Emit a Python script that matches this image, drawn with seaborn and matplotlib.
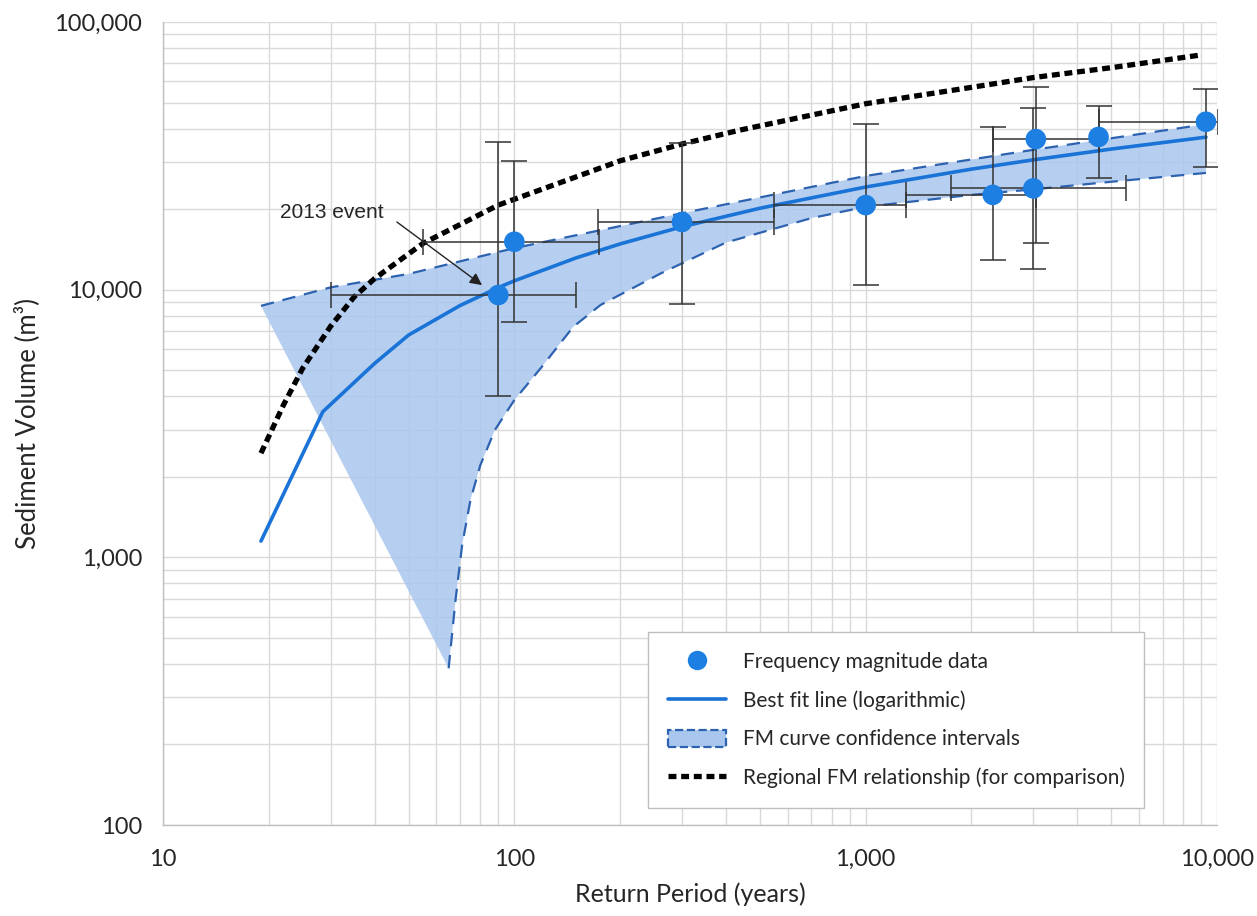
import numpy as np
import pandas as pd
import seaborn as sns
import matplotlib
matplotlib.use("Agg")
import matplotlib.pyplot as plt
import matplotlib.ticker as mticker
from matplotlib.lines import Line2D
from matplotlib.patches import Patch

# ---------------- data ----------------
point_rp = [90, 100, 300, 1000, 2300, 3000, 3050, 4600, 9300]
point_vol = [9550, 15100, 17900, 20700, 22600, 23900, 36500, 37200, 42400]
vol_low = [4010, 7590, 8850, 10400, 12900, 11900, 15000, 26100, 28800]
vol_high = [35700, 30300, 35400, 41600, 40600, 47900, 57300, 48500, 56100]
rp_low = [30, 55, 173, 548, 1300, 1750, 2300, np.nan, 4600]
rp_high = [150, 174, 548, 1300, 3050, 5500, 4600, np.nan, 10040]

fit_rp = [19, 28.5, 40, 50, 70, 90, 100, 150, 200, 300, 500, 1000, 2000, 3000, 5000, 9300]
fit_vol = [1150, 3500, 5300, 6770, 8720, 10180, 10790, 13150, 14820, 17180, 20150,
           24180, 28200, 30550, 33520, 37130]

ci_up_rp = [19, 30, 50, 100, 300, 1000, 3000, 9300]
ci_up_vol = [8700, 10200, 11450, 14300, 19300, 26600, 33300, 41500]
ci_lo_rp = [65, 68, 71, 75, 80, 88, 100, 119, 147, 176, 261, 400, 700, 1000, 2000,
            3000, 5000, 9300]
ci_lo_vol = [385, 693, 1110, 1640, 2210, 2990, 3870, 5100, 7260, 8770, 11500, 15000,
             18500, 20400, 22600, 23700, 25300, 27300]

reg_rp = [19, 22, 25, 30, 35, 40, 55, 90, 150, 200, 300, 440, 1000, 2000, 3000, 5000, 9000]
reg_vol = [2450, 3700, 5100, 7300, 9400, 11000, 14900, 20700, 26400, 30300, 35000,
           39500, 49500, 57000, 62000, 67500, 75300]

event_label = "2013 event"
event_tail = (46.3, 17900)
event_head = (80.9, 10400)

x_ticks = [10, 100, 1000, 10000]
y_ticks = [100, 1000, 10000, 100000]

# ---------------- style ----------------
sns.set_theme(style="whitegrid")
plt.rcParams['font.family'] = ['Lato', 'DejaVu Sans']

PT_BLUE = '#1E7FE3'
FIT_BLUE = '#1A73D6'
CI_EDGE = '#2D62B0'
CI_FILL = '#A9C7EE'
GRID = '#D9D9D9'
TXT = '#262626'

fig = plt.figure(figsize=(12.57, 9.16), dpi=100)
ax = fig.add_axes([0.1297, 0.0993, 0.9682 - 0.1297, 0.976 - 0.0993])
ax.set_facecolor('white')

ax.set_xscale('log')
ax.set_yscale('log')
ax.set_xlim(10, 10000)
ax.set_ylim(100, 100000)

# confidence interval polygon
poly_x = list(ci_up_rp) + list(ci_lo_rp[::-1])
poly_y = list(ci_up_vol) + list(ci_lo_vol[::-1])
ax.fill(poly_x, poly_y, color=CI_FILL, alpha=0.85, lw=0, zorder=2)

df_up = pd.DataFrame({'rp': ci_up_rp, 'vol': ci_up_vol})
df_lo = pd.DataFrame({'rp': ci_lo_rp, 'vol': ci_lo_vol})
sns.lineplot(data=df_up, x='rp', y='vol', ax=ax, color=CI_EDGE, lw=1.6,
             linestyle=(0, (6, 4)), sort=False, zorder=3, estimator=None)
sns.lineplot(data=df_lo, x='rp', y='vol', ax=ax, color=CI_EDGE, lw=1.6,
             linestyle=(0, (6, 4)), sort=False, zorder=3, estimator=None)

# regional relationship
df_reg = pd.DataFrame({'rp': reg_rp, 'vol': reg_vol})
sns.lineplot(data=df_reg, x='rp', y='vol', ax=ax, color='black', lw=3.8,
             linestyle=(0, (1.5, 0.9)), sort=False, zorder=4, estimator=None)

# best fit
df_fit = pd.DataFrame({'rp': fit_rp, 'vol': fit_vol})
sns.lineplot(data=df_fit, x='rp', y='vol', ax=ax, color=FIT_BLUE, lw=2.6,
             sort=False, zorder=5, estimator=None)

# error bars
pr = np.array(point_rp, float)
pv = np.array(point_vol, float)
yerr = np.vstack([pv - np.array(vol_low), np.array(vol_high) - pv])
ax.errorbar(pr, pv, yerr=yerr, fmt='none', ecolor='#333333', elinewidth=1.1,
            capsize=9.5, capthick=1.1, zorder=6)
rl = np.array(rp_low, float)
rh = np.array(rp_high, float)
m = ~np.isnan(rl)
xerr = np.vstack([pr[m] - rl[m], rh[m] - pr[m]])
ax.errorbar(pr[m], pv[m], xerr=xerr, fmt='none', ecolor='#333333', elinewidth=1.1,
            capsize=9.5, capthick=1.1, zorder=6)

# data points
df_pts = pd.DataFrame({'rp': point_rp, 'vol': point_vol})
sns.scatterplot(data=df_pts, x='rp', y='vol', ax=ax, color=PT_BLUE, s=220,
                edgecolor='none', zorder=7)

# annotation
ax.text(21.5, 19400, event_label, fontsize=15, family=['Liberation Sans', 'DejaVu Sans'],
        color=TXT, va='center', ha='left', zorder=8)
ax.annotate('', xy=event_head, xytext=event_tail,
            arrowprops=dict(arrowstyle='-|>', color='#222222', lw=1.0,
                            mutation_scale=18, shrinkA=0, shrinkB=0), zorder=8)

# grid / ticks
ax.grid(True, which='major', color=GRID, lw=1.0)
ax.grid(True, which='minor', color=GRID, lw=1.0)
ax.set_axisbelow(True)
ax.xaxis.set_major_locator(mticker.FixedLocator(x_ticks))
ax.yaxis.set_major_locator(mticker.FixedLocator(y_ticks))
ax.xaxis.set_minor_locator(mticker.LogLocator(base=10, subs=np.arange(2, 10)))
ax.yaxis.set_minor_locator(mticker.LogLocator(base=10, subs=np.arange(2, 10)))
ax.xaxis.set_minor_formatter(mticker.NullFormatter())
ax.yaxis.set_minor_formatter(mticker.NullFormatter())
fmt = mticker.FuncFormatter(lambda v, p: f"{int(round(v)):,}")
ax.xaxis.set_major_formatter(fmt)
ax.yaxis.set_major_formatter(fmt)
ax.tick_params(axis='both', which='major', labelsize=17, colors=TXT, length=8,
               width=1.0, color='#BFBFBF', pad=7)
ax.tick_params(axis='x', which='major', pad=9)
ax.tick_params(axis='both', which='minor', length=0)
for s in ['top', 'right']:
    ax.spines[s].set_visible(False)
for s in ['left', 'bottom']:
    ax.spines[s].set_color('#BFBFBF')
    ax.spines[s].set_linewidth(1.0)

ax.set_xlabel('Return Period (years)', fontsize=18, color=TXT, labelpad=9)
ax.set_ylabel('Sediment Volume (m³)', fontsize=18.5, color=TXT, labelpad=10)

# legend
handles = [
    Line2D([], [], marker='o', linestyle='none', markersize=14, color=PT_BLUE,
           markeredgecolor='none'),
    Line2D([], [], color=FIT_BLUE, lw=2.6),
    Patch(facecolor=CI_FILL, edgecolor=CI_EDGE, linestyle='--', linewidth=1.6),
    Line2D([], [], color='black', lw=3.8, linestyle=(0, (1.5, 0.9))),
]
labels = ['Frequency magnitude data', 'Best fit line (logarithmic)',
          'FM curve confidence intervals', 'Regional FM relationship (for comparison)']
leg = ax.legend(handles, labels, loc='lower left', bbox_to_anchor=(0.46, 0.021),
                borderaxespad=0, fontsize=15, frameon=True, fancybox=False,
                framealpha=1, edgecolor='#BFBFBF', handlelength=2.8, handleheight=0.9,
                labelspacing=0.88, borderpad=0.95, handletextpad=0.8)
leg.get_frame().set_linewidth(1.0)
for t in leg.get_texts():
    t.set_color(TXT)

fig.savefig('out.png', dpi=100, facecolor='white')
